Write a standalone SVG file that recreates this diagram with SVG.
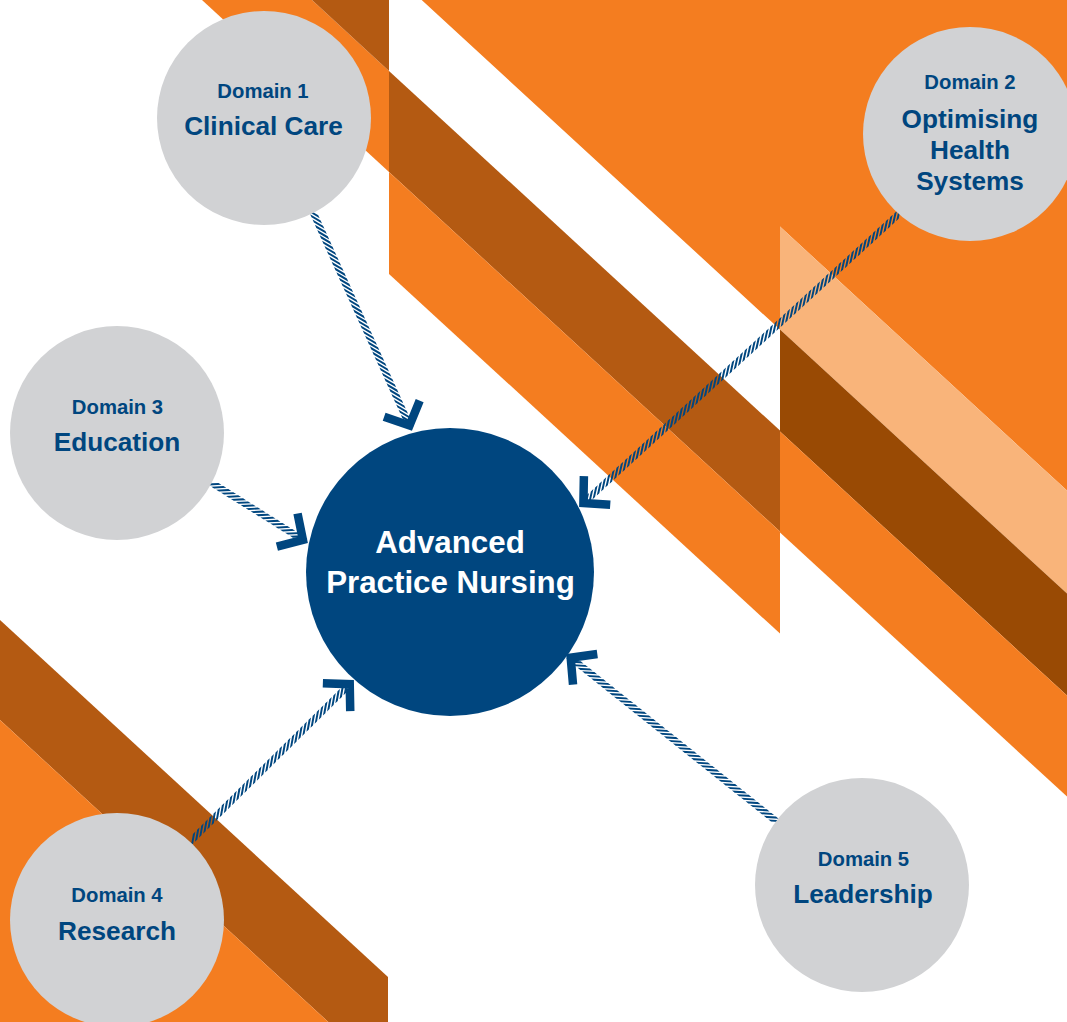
<svg xmlns="http://www.w3.org/2000/svg" width="1067" height="1022" viewBox="0 0 1067 1022">
<style>
.or{fill:#F47D20}.br{fill:#B45A12}.dk{fill:#994A04}.lt{fill:#F9B47A}
.dom{fill:#D1D2D4}
.ctr{fill:#00467F}
.hatch{stroke:#00467F;stroke-width:7;stroke-dasharray:3.4 2.4;fill:none}
.head{stroke:#00467F;stroke-width:8.5;fill:none;stroke-linejoin:miter;stroke-linecap:butt}
text{font-family:"Liberation Sans",Arial,Helvetica,sans-serif;font-weight:bold;text-anchor:middle}
.s{font-size:20.3px;fill:#00467F}
.b{font-size:26.2px;fill:#00467F}
.w{font-size:31.3px;fill:#FFFFFF}
</style>
<rect width="1067" height="1022" fill="#FFFFFF"/>
<g id="background">
<polygon class="or" points="202,0 312,0 389,70.9 389,171.9"/>
<polygon class="br" points="312,0 389,0 389,70.9"/>
<polygon class="or" points="421.7,0 1067,0 1067,490.6 780,226.6 780,329.6"/>
<polygon class="br" points="389,70.9 780,430.6 780,531.6 389,171.9"/>
<polygon class="or" points="389,171.9 780,531.6 780,633.6 389,273.9"/>
<polygon class="lt" points="780,226.6 1067,490.6 1067,593.6 780,329.6"/>
<polygon class="dk" points="780,329.6 1067,593.6 1067,695.6 780,431.6"/>
<polygon class="or" points="780,431.6 1067,695.6 1067,796.6 780,532.6"/>
<polygon class="br" points="0,620 388,977 388,1022 328.3,1022 0,720"/>
<polygon class="or" points="0,720 328.3,1022 0,1022"/>
</g>
<g id="connectors">
<g transform="translate(412,431) rotate(65.67)"><g transform="skewX(-55)"><line class="hatch" x1="-240.3" y1="0" x2="-8" y2="0"/></g><path class="head" d="M-24.5,-19.5 L-6,0 L-24.5,19.5"/></g>
<g transform="translate(579,507) rotate(137.5)"><g transform="skewX(-55)"><line class="hatch" x1="-435.3" y1="0" x2="-8" y2="0"/></g><path class="head" d="M-24.5,-19.5 L-6,0 L-24.5,19.5"/></g>
<g transform="translate(308,543) rotate(32)"><g transform="skewX(-55)"><line class="hatch" x1="-112.7" y1="0" x2="-8" y2="0"/></g><path class="head" d="M-24.5,-19.5 L-6,0 L-24.5,19.5"/></g>
<g transform="translate(354,680) rotate(-44.6)"><g transform="skewX(-55)"><line class="hatch" x1="-227.7" y1="0" x2="-8" y2="0"/></g><path class="head" d="M-24.5,-19.5 L-6,0 L-24.5,19.5"/></g>
<g transform="translate(566,654) rotate(-141.5)"><g transform="skewX(-55)"><line class="hatch" x1="-269.7" y1="0" x2="-8" y2="0"/></g><path class="head" d="M-24.5,-19.5 L-6,0 L-24.5,19.5"/></g>
</g>
<g id="domain1"><circle class="dom" cx="264" cy="118" r="107"/><text class="s" x="263" y="98">Domain 1</text><text class="b" x="263.5" y="135">Clinical Care</text></g>
<g id="domain2"><circle class="dom" cx="970" cy="134" r="107"/><text class="s" x="970" y="89">Domain 2</text><text class="b" x="970" y="128">Optimising</text><text class="b" x="970" y="159">Health</text><text class="b" x="970" y="190">Systems</text></g>
<g id="domain3"><circle class="dom" cx="117" cy="433" r="107"/><text class="s" x="117.5" y="414">Domain 3</text><text class="b" x="117" y="451">Education</text></g>
<g id="domain4"><circle class="dom" cx="117" cy="920" r="107"/><text class="s" x="117" y="902">Domain 4</text><text class="b" x="117" y="940">Research</text></g>
<g id="domain5"><circle class="dom" cx="862" cy="885" r="107"/><text class="s" x="863.5" y="866">Domain 5</text><text class="b" x="863" y="903">Leadership</text></g>
<g id="center"><circle class="ctr" cx="450" cy="572" r="144"/><text class="w" x="450" y="553">Advanced</text><text class="w" x="450.5" y="593">Practice Nursing</text></g>
</svg>
